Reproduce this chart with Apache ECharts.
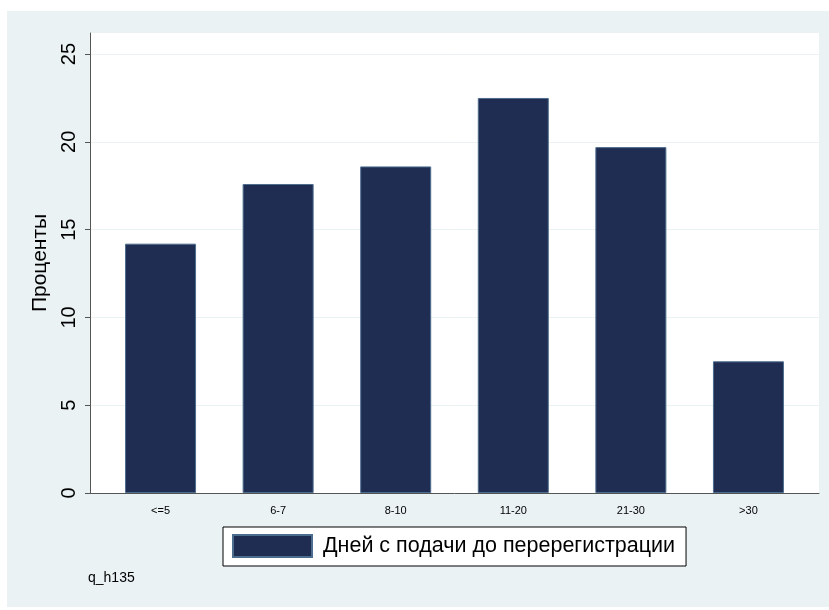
<!DOCTYPE html>
<html>
<head>
<meta charset="utf-8">
<script src="https://cdn.jsdelivr.net/npm/echarts@6/dist/echarts.min.js"></script>
<style>html,body{margin:0;padding:0;background:#fff}#c{width:829px;height:610px}</style>
</head>
<body>
<div id="c"></div>
<script>
var categories = ['<=5', '6-7', '8-10', '11-20', '21-30', '>30'];
var values = [14.2, 17.6, 18.6, 22.5, 19.7, 7.5];
var yTicks = [0, 5, 10, 15, 20, 25];
var seriesName = 'Дней с подачи до перерегистрации';
var yTitle = 'Проценты';
var note = 'q_h135';

var positions = categories.map(function (c, i) { return i + 1; });
var barData = values.map(function (v, i) { return [positions[i], v]; });

var chart = echarts.init(document.getElementById('c'));
chart.setOption({
  backgroundColor: '#ffffff',
  animation: false,
  textStyle: { fontFamily: 'Liberation Sans, Arial, sans-serif' },
  graphic: [
    { type: 'rect', z: -10, shape: { x: 7, y: 11, width: 822, height: 596 }, style: { fill: '#eaf2f3' } },
    { type: 'text', left: 88, top: 571, style: { text: note, fontSize: 14, fill: '#000', fontFamily: 'Liberation Sans, Arial, sans-serif' } }
  ],
  grid: { left: 90, right: 10, top: 33, bottom: 117, show: true, backgroundColor: '#ffffff', borderWidth: 0 },
  legend: {
    left: 223, top: 527,
    padding: [7, 11, 8, 9],
    backgroundColor: '#ffffff', borderColor: '#000', borderWidth: 1,
    itemWidth: 79, itemHeight: 22,
    icon: 'rect',
    textStyle: { fontSize: 21.5, color: '#000', padding: [0, 0, 0, 6] },
    data: [seriesName]
  },
  xAxis: {
    type: 'value', min: 0.4, max: 6.6,
    axisLine: { show: true, lineStyle: { color: '#555', width: 1 } },
    axisTick: { show: false },
    splitLine: { show: false },
    axisLabel: {
      customValues: positions,
      formatter: function (v) { return categories[Math.round(v) - 1] || ''; },
      fontSize: 11, color: '#000', margin: 12,
      fontFamily: 'Liberation Sans Narrow, Liberation Sans, Arial, sans-serif'
    }
  },
  yAxis: {
    type: 'value', min: 0, max: 26.2,
    name: yTitle, nameLocation: 'middle', nameRotate: 90, nameGap: 38,
    nameTextStyle: { fontSize: 21, color: '#000' },
    axisLine: { show: true, lineStyle: { color: '#555', width: 1 } },
    axisTick: { show: true, length: 5, customValues: yTicks, lineStyle: { color: '#555' } },
    splitLine: { show: true, lineStyle: { color: '#eaf2f3', width: 1 } },
    axisLabel: { customValues: yTicks, rotate: 90, fontSize: 20, color: '#000', margin: 11 }
  },
  series: [{
    type: 'bar', name: seriesName, data: barData, barWidth: 71,
    itemStyle: { color: '#1f2d52', borderColor: '#4d6d8e', borderWidth: 1 }
  }]
});
</script>
</body>
</html>
